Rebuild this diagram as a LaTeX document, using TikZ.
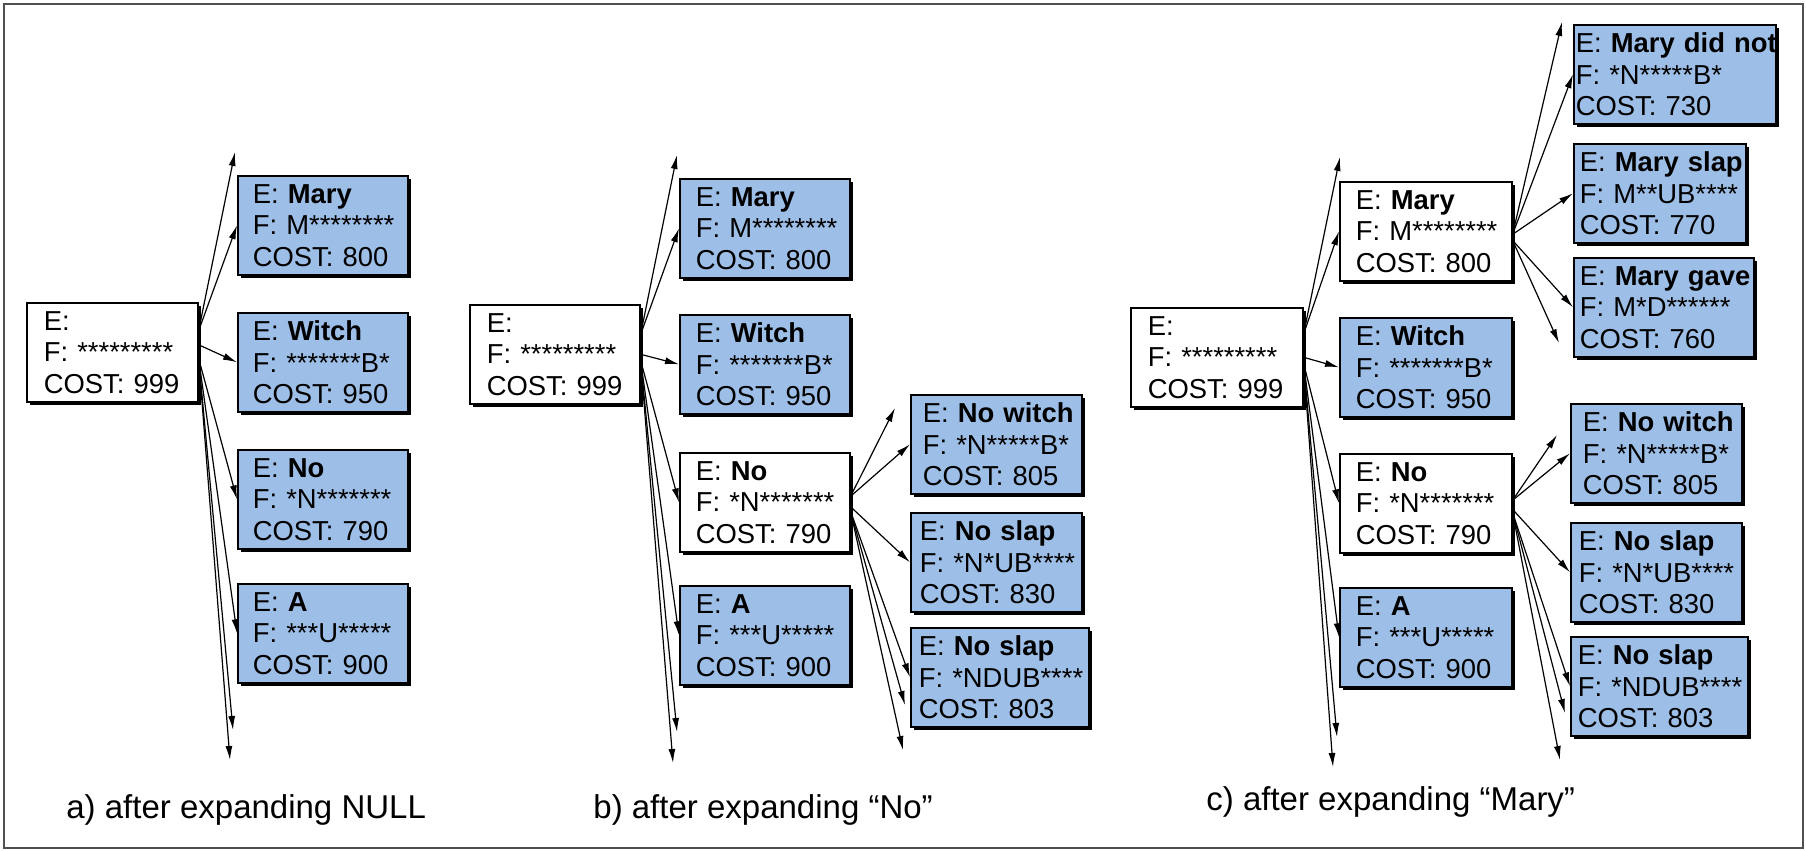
\documentclass[tikz,border=0pt]{standalone}
\usepackage{fontspec}
\setmainfont{Liberation Sans}
\usetikzlibrary{arrows.meta,shadows}
\definecolor{hypblue}{RGB}{157,190,230}
\definecolor{framegray}{RGB}{80,80,80}
\newcommand{\hyp}[3]{\mbox{E: \textbf{#1}}\\\mbox{F: #2}\\\mbox{COST: #3}}

\begin{document}
\begin{tikzpicture}[x=0.5pt,y=-0.5pt]
	\tikzstyle{every node}=[font=\fontsize{13.7}{15.75}\selectfont]
	\tikzstyle{hypbox}=[draw, line width=0.8pt, align=left, anchor=north west, inner ysep=2pt, minimum height=49.5pt, drop shadow={shadow xshift=1.8pt, shadow yshift=-1.8pt, fill=black, opacity=1}]
	\tikzstyle{openbox}=[hypbox, fill=white]
	\tikzstyle{donebox}=[hypbox, fill=hypblue]
	\tikzstyle{hypedge}=[line width=0.6pt, -{Latex[length=7pt,width=3.5pt]}]
	\tikzstyle{capt}=[anchor=base west, inner sep=0pt, font=\fontsize{16.5}{19}\selectfont]

	\fill[white] (0,0) rectangle (1806,851);
	\useasboundingbox (0,0) rectangle (1806,851);
	\draw[framegray, line width=1.1pt] (4,4) rectangle (1803,848);

	% a) after expanding NULL
	\node[openbox, text width=68.5pt, inner xsep=8.5pt] (aRoot) at (26,302) {\hyp{}{*********}{999}};
	\node[donebox, text width=70pt, inner xsep=7.5pt] (aMary) at (237,175) {\hyp{Mary}{M********}{800}};
	\node[donebox, text width=70pt, inner xsep=7.5pt] (aWitch) at (237,312) {\hyp{Witch}{*******B*}{950}};
	\node[donebox, text width=70pt, inner xsep=7.5pt] (aNo) at (237,449) {\hyp{No}{*N*******}{790}};
	\node[donebox, text width=70pt, inner xsep=7.5pt] (aA) at (237,583) {\hyp{A}{***U*****}{900}};
	\coordinate (aUp) at (235,152);
	\coordinate (aDownA) at (233,730);
	\coordinate (aDownB) at (230,760);
	\draw[hypedge] (aRoot.14) -- (aUp);
	\draw[hypedge] (aRoot.14) -- (aMary.west);
	\draw[hypedge] (aRoot.5) -- (aWitch.west);
	\draw[hypedge] (aRoot.-4) -- (aNo.west);
	\draw[hypedge] (aRoot.-4) -- (aA.west);
	\draw[hypedge] (aRoot.-4) -- (aDownA);
	\draw[hypedge] (aRoot.-4) -- (aDownB);
	\node[capt] (aCap) at (66,818) {a) after expanding NULL};

	% b) after expanding "No"
	\node[openbox, text width=68pt, inner xsep=8.5pt] (bRoot) at (469,304) {\hyp{}{*********}{999}};
	\node[donebox, text width=69pt, inner xsep=8pt] (bMary) at (679,178) {\hyp{Mary}{M********}{800}};
	\node[donebox, text width=69pt, inner xsep=8pt] (bWitch) at (679,314) {\hyp{Witch}{*******B*}{950}};
	\node[openbox, text width=69pt, inner xsep=8pt] (bNo) at (679,452) {\hyp{No}{*N*******}{790}};
	\node[donebox, text width=69pt, inner xsep=8pt] (bA) at (679,585) {\hyp{A}{***U*****}{900}};
	\node[donebox, text width=73.5pt, inner xsep=6pt] (bNoWitch) at (910,394) {\hyp{No witch}{*N*****B*}{805}};
	\node[donebox, text width=76.5pt, inner xsep=4.5pt] (bNoSlap) at (910,512) {\hyp{No slap}{*N*UB****}{830}};
	\node[donebox, text width=81pt, inner xsep=4pt] (bNoSlapD) at (910,627) {\hyp{No slap}{*NDUB****}{803}};
	\coordinate (bUp) at (677,155);
	\coordinate (bDownA) at (677,732);
	\coordinate (bDownB) at (673,763);
	\coordinate (bNoUp) at (895,408);
	\coordinate (bNoDownA) at (905,705);
	\coordinate (bNoDownB) at (903,750);
	\draw[hypedge] (bRoot.13) -- (bUp);
	\draw[hypedge] (bRoot.13) -- (bMary.west);
	\draw[hypedge] (bRoot.east) -- (bWitch.west);
	\draw[hypedge] (bRoot.-4) -- (bNo.west);
	\draw[hypedge] (bRoot.-4) -- (bA.west);
	\draw[hypedge] (bRoot.-4) -- (bDownA);
	\draw[hypedge] (bRoot.-4) -- (bDownB);
	\draw[hypedge] (bNo.4) -- (bNoUp);
	\draw[hypedge] (bNo.4) -- (bNoWitch.west);
	\draw[hypedge] (bNo.-3) -- (bNoSlap.west);
	\draw[hypedge] (bNo.-6) -- (bNoSlapD.west);
	\draw[hypedge] (bNo.-6) -- (bNoDownA);
	\draw[hypedge] (bNo.-6) -- (bNoDownB);
	\node[capt] (bCap) at (593,818) {b) after expanding “No”};

	% c) after expanding "Mary"
	\node[openbox, text width=69pt, inner xsep=8.5pt] (cRoot) at (1130,307) {\hyp{}{*********}{999}};
	\node[openbox, text width=70pt, inner xsep=8pt] (cMary) at (1339,181) {\hyp{Mary}{M********}{800}};
	\node[donebox, text width=70pt, inner xsep=8pt] (cWitch) at (1339,317) {\hyp{Witch}{*******B*}{950}};
	\node[openbox, text width=70pt, inner xsep=8pt] (cNo) at (1339,453) {\hyp{No}{*N*******}{790}};
	\node[donebox, text width=70pt, inner xsep=8pt] (cA) at (1339,587) {\hyp{A}{***U*****}{900}};
	\node[donebox, text width=99pt, inner xsep=1pt] (cMaryNot) at (1573,24) {\hyp{Mary did not}{*N*****B*}{730}};
	\node[donebox, text width=80pt, inner xsep=3pt] (cMarySlap) at (1573,143) {\hyp{Mary slap}{M**UB****}{770}};
	\node[donebox, text width=84pt, inner xsep=3pt] (cMaryGave) at (1573,257) {\hyp{Mary gave}{M*D******}{760}};
	\node[donebox, text width=73.5pt, inner xsep=6pt] (cNoWitch) at (1570,403) {\hyp{No witch}{*N*****B*}{805}};
	\node[donebox, text width=77.5pt, inner xsep=4pt] (cNoSlap) at (1570,522) {\hyp{No slap}{*N*UB****}{830}};
	\node[donebox, text width=81.5pt, inner xsep=3.5pt] (cNoSlapD) at (1570,636) {\hyp{No slap}{*NDUB****}{803}};
	\coordinate (cUp) at (1340,157);
	\coordinate (cDownA) at (1337,737);
	\coordinate (cDownB) at (1333,767);
	\coordinate (cMaryUp) at (1562,22);
	\coordinate (cMaryDown) at (1559,343);
	\coordinate (cNoUp) at (1557,435);
	\coordinate (cNoDownA) at (1565,713);
	\coordinate (cNoDownB) at (1560,760);
	\draw[hypedge] (cRoot.15) -- (cUp);
	\draw[hypedge] (cRoot.15) -- (cMary.west);
	\draw[hypedge] (cRoot.east) -- (cWitch.west);
	\draw[hypedge] (cRoot.-4) -- (cNo.west);
	\draw[hypedge] (cRoot.-4) -- (cA.west);
	\draw[hypedge] (cRoot.-4) -- (cDownA);
	\draw[hypedge] (cRoot.-4) -- (cDownB);
	\draw[hypedge] (cMary.-2) -- (cMaryUp);
	\draw[hypedge] (cMary.-2) -- (cMaryNot.west);
	\draw[hypedge] (cMary.-2) -- (cMarySlap.west);
	\draw[hypedge] (cMary.-6) -- (cMaryGave.west);
	\draw[hypedge] (cMary.-6) -- (cMaryDown);
	\draw[hypedge] (cNo.2) -- (cNoUp);
	\draw[hypedge] (cNo.2) -- (cNoWitch.west);
	\draw[hypedge] (cNo.-4) -- (cNoSlap.west);
	\draw[hypedge] (cNo.-6) -- (cNoSlapD.west);
	\draw[hypedge] (cNo.-6) -- (cNoDownA);
	\draw[hypedge] (cNo.-6) -- (cNoDownB);
	\node[capt] (cCap) at (1206,810) {c) after expanding “Mary”};
\end{tikzpicture}
\end{document}
